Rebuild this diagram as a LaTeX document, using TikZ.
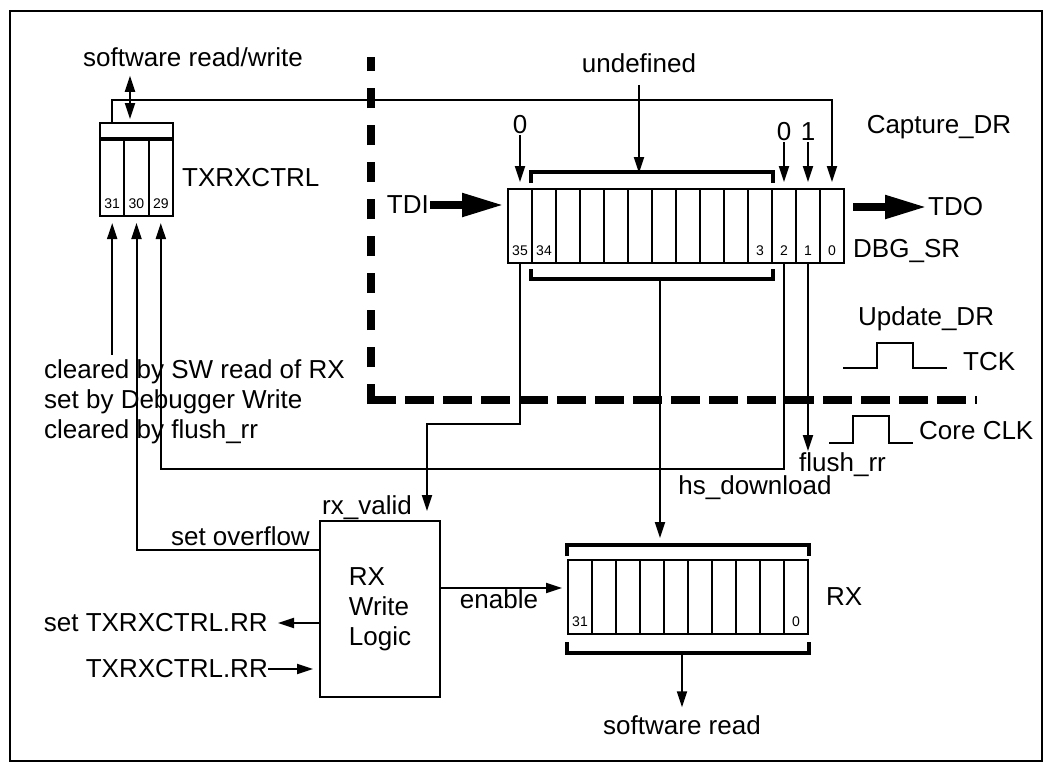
\documentclass[tikz,border=0pt]{standalone}
\usepackage{fontspec}
\setmainfont{Liberation Sans}
\usetikzlibrary{arrows.meta, positioning}

\begin{document}
\begin{tikzpicture}[
		x=1pt, y=-1pt,
		every node/.style={font=\fontsize{26}{30}\selectfont, inner sep=1pt},
		cell/.style={draw, line width=2pt, minimum width=24pt, minimum height=74pt, inner sep=0pt},
		bitno/.style={font=\fontsize{14}{14}\selectfont, anchor=base, inner sep=0pt},
		wire/.style={line width=2pt},
		arrow/.style={-{Triangle[length=16pt, width=10pt]}, line width=2pt},
		dblarrow/.style={{Triangle[length=16pt, width=10pt]}-{Triangle[length=16pt, width=10pt]}, line width=2pt},
		fatarrow/.style={-{Triangle[length=42pt, width=22pt]}, line width=8pt},
		brace/.style={line width=3.5pt},
		boundary/.style={line width=8pt}
	]
		\useasboundingbox (0,0) rectangle (1052,772);
		\draw[line width=2.5pt] (10,11) rectangle (1042,761);

		% clock domain boundary
		\draw[boundary, dash pattern=on 20pt off 17pt] (371,404) -- (371,57);
		\draw[boundary, dash pattern=on 29pt off 9pt] (367,400) -- (977,400);

		% TXRXCTRL
		\foreach \b [count=\k from 0] in {31,30,29} {
			\node[cell, minimum width=24.3pt, minimum height=76pt] (tx\b) at (112.2+24.3*\k,178) {};
			\node[bitno] at ([yshift=9pt]tx\b.south) {\b};
		}
		\node[draw, line width=2pt, minimum width=72.9pt, minimum height=15pt, inner sep=0pt, anchor=south west] (txtop) at (tx31.north west) {};
		\node[right=7pt of tx29] (txname) {TXRXCTRL};
		\node (swrw) at (193,57) {software read/write};
		\draw[dblarrow, shorten <=3pt, shorten >=8pt] ([xshift=-6.5pt]txtop.north) -- ([xshift=-6.5pt]txtop.north |- swrw.south);

		% DBG_SR
		\foreach \b [count=\k from 0] in {35,34,{},{},{},{},{},{},{},{},3,2,1,0} {
			\node[cell] (sr\k) at (520+24*\k,226) {};
			\node[bitno] at ([yshift=9pt]sr\k.south) {\b};
		}
		\node[anchor=base west] (srname) at ([xshift=7pt, yshift=7pt]sr13.south east) {DBG\_SR};
		\draw[brace] ([yshift=5pt]sr1.north west) -- ([yshift=16pt]sr1.north west) -- ([yshift=16pt]sr10.north east) -- ([yshift=5pt]sr10.north east);
		\draw[brace] ([yshift=-5pt]sr1.south west) -- ([yshift=-15pt]sr1.south west) -- ([yshift=-15pt]sr10.south east) -- ([yshift=-5pt]sr10.south east);
		\coordinate (undefin) at (639,173);
		\coordinate (hsout) at (660,278);

		\node[anchor=east] (tdi) at (430,205) {TDI};
		\node[anchor=west] (tdo) at (927,207) {TDO};
		\draw[fatarrow, shorten >=3pt] (tdi) -- (tdi -| sr0.west);
		\draw[fatarrow, shorten <=8pt] (sr13.east |- tdo) -- (tdo);

		\node[above=53pt of sr0] (zero35) {0};
		\node[above=46pt of sr11] (zero2) {0};
		\node[above=46pt of sr12] (one1) {1};
		\node (undef) at (639,63) {undefined};
		\node (capt) at (939,127) {Capture\_DR};
		\draw[arrow, shorten >=6pt] (zero35) -- (sr0.north);
		\draw[arrow, shorten >=6pt] (zero2) -- (sr11.north);
		\draw[arrow, shorten >=6pt] (one1) -- (sr12.north);
		\draw[arrow, shorten <=11pt] (undef) -- (undefin);
		\draw[arrow, shorten >=6pt] (tx31.center |- txtop.north) -- ++(0,-22) -| (sr13.north);

		% clocks
		\node[anchor=base west] (upd) at (857,325) {Update\_DR};
		\draw[wire] (843,368) -- ++(34,0) -- ++(0,-25) -- ++(36,0) -- ++(0,25) -- ++(34,0);
		\node[anchor=base west] (tck) at (962,370) {TCK};
		\draw[wire] (829,443) -- ++(24,0) -- ++(0,-27) -- ++(36,0) -- ++(0,27) -- ++(24,0);
		\node[anchor=base west] (cclk) at (918,439) {Core CLK};

		% RX write logic
		\node[draw, line width=2pt, minimum width=120pt, minimum height=176pt, align=left] (rxw) at (380,609) {RX\\Write\\Logic};
		\node[anchor=base east] (rxv) at (413,514) {rx\_valid};
		\node[anchor=base east] (ovf) at (311,545) {set overflow};
		\node[anchor=east, inner sep=0pt] (rrset) at (268,623) {set TXRXCTRL.RR};
		\node[anchor=east, inner sep=0pt] (rrin) at (268,669) {TXRXCTRL.RR};
		\node[anchor=north] (en) at (499,588) {enable};

		% RX
		\foreach \b [count=\k from 0] in {31,{},{},{},{},{},{},{},{},0} {
			\node[cell] (rx\k) at (580+24*\k,597) {};
			\node[bitno] at ([yshift=9pt]rx\k.south) {\b};
		}
		\node[right=16pt of rx9] (rxname) {RX};
		\draw[brace] ([yshift=3pt]rx0.north west) -- ([yshift=14pt]rx0.north west) -- ([yshift=14pt]rx9.north east) -- ([yshift=3pt]rx9.north east);
		\draw[brace] ([yshift=-7pt]rx0.south west) -- ([yshift=-18pt]rx0.south west) -- ([yshift=-18pt]rx9.south east) -- ([yshift=-7pt]rx9.south east);
		\coordinate (rxin) at (660,546);
		\coordinate (rxout) at (682,652);
		\node (swrd) at (682,725) {software read};
		\node[anchor=north west] (flush) at (798,451) {flush\_rr};
		\node (hsdl) at (755,488) {hs\_download};

		\node[anchor=base west] (clr1) at (43,378) {cleared by SW read of RX};
		\node[anchor=base west] (clr2) at (43,408) {set by Debugger Write};
		\node[anchor=base west] (clr3) at (43,438) {cleared by flush\_rr};

		\draw[arrow, shorten >=8pt] (hsout) -- (rxin);
		\draw[arrow, shorten >=7pt] (rxout) -- (swrd);
		\draw[arrow, shorten >=9pt] (sr0.south) -- ++(0,160) -| ([xshift=47pt]rxw.north);
		\draw[arrow, shorten >=6pt] (sr11.south) -- ++(0,205) -| (tx29.south);
		\draw[arrow] (sr12.south) -- (sr12.south |- flush.north);
		\draw[arrow, shorten <=3pt, shorten >=6pt] (clr1.north -| tx31.south) -- (tx31.south);
		\draw[arrow, shorten >=6pt] ([yshift=-30pt]rxw.north west) -| (tx30.south);
		\draw[arrow, shorten >=5pt] ([yshift=21pt]rxw.east) -- ([yshift=21pt]rxw.east -| rx0.west);
		\draw[arrow, shorten >=10pt] (rrset -| rxw.west) -- (rrset.east);
		\draw[arrow, shorten >=6pt] (rrin.east) -- (rrin -| rxw.west);
	\end{tikzpicture}
\end{document}
